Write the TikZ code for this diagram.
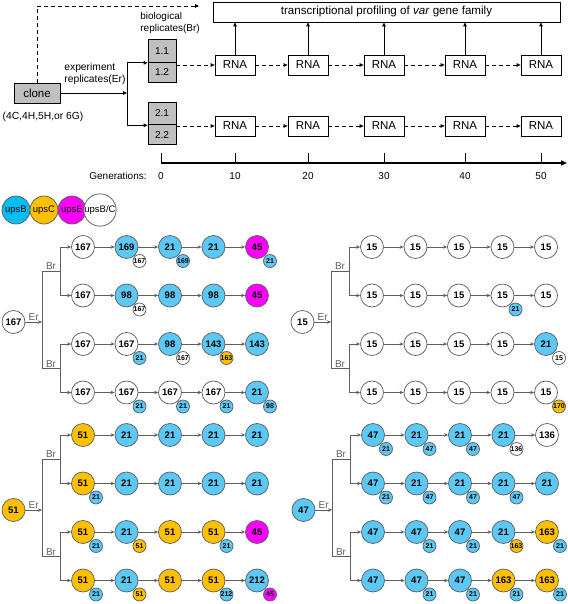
\documentclass[tikz,border=0pt]{standalone}
\usepackage{fontspec}
\setmainfont{Liberation Sans}
\usetikzlibrary{arrows.meta}

\definecolor{vB}{HTML}{5BC8F5}
\definecolor{lgB}{HTML}{00BEF2}
\definecolor{vC}{HTML}{FFC000}
\definecolor{vE}{HTML}{FF00FF}
\definecolor{vW}{HTML}{FFFFFF}
\definecolor{trgray}{HTML}{5F5F5F}
\definecolor{boxgray}{HTML}{C0C0C0}

\tikzset{every picture/.style={line width=0.75pt}}
\tikzset{
  gbox/.style={draw, fill=boxgray, inner sep=0pt, font=\fontsize{10}{12}\selectfont},
  rna/.style={draw, fill=white, minimum width=40, minimum height=20, inner sep=0pt, font=\fontsize{11.5}{13}\selectfont},
  arr/.style={-{Triangle[length=4pt,width=3.5pt]}},
  darr/.style={arr, dash pattern={on 4pt off 3pt}},
  vnode/.style={circle, draw=trgray, minimum size=23, inner sep=0pt, font=\bfseries\fontsize{9.5}{10}\selectfont},
  badge/.style={circle, draw=trgray, minimum size=13, inner sep=0pt, font=\bfseries\fontsize{7}{8}\selectfont},
  legnode/.style={circle, draw=trgray, minimum size=28, inner sep=0pt, font=\fontsize{9.5}{10}\selectfont},
  tline/.style={draw=trgray},
  tarr/.style={trgray, -{Stealth[length=4pt,width=3.5pt]}},
  lbl/.style={inner sep=1pt, font=\fontsize{10}{12}\selectfont},
}

\begin{document}
\begin{tikzpicture}[x=1pt, y=-1pt]
    \useasboundingbox (0,0) rectangle (567,604);

    % experiment layout
    \node[gbox, minimum width=46, minimum height=20, font=\fontsize{11.5}{13}\selectfont] (clone) at (37,93) {clone};
    \node[lbl, font=\fontsize{10.3}{12}\selectfont] (strains) at (43,117) {(4C,4H,5H,or 6G)};
    \node[lbl, anchor=west, align=left, font=\fontsize{10.3}{12.5}\selectfont] (erlbl) at (63,74) {experiment\\replicates(Er)};
    \node[lbl, anchor=west, align=left] (brlbl) at (139,23) {biological\\replicates(Br)};
    \node[gbox, minimum width=28, minimum height=23] (b11) at (162,51) {1.1};
    \node[gbox, minimum width=28, minimum height=19.5] (b12) at (162,72.25) {1.2};
    \node[gbox, minimum width=28, minimum height=23] (b21) at (162,113.4) {2.1};
    \node[gbox, minimum width=28, minimum height=19.5] (b22) at (162,134.6) {2.2};
    \node[rna, minimum width=347, font=\fontsize{11.6}{13}\selectfont] (prof) at (386.5,12) {transcriptional profiling of \textit{var} gene family};

    \coordinate (split) at (127,93);
    \draw[arr] (clone) -- (split);
    \draw (split |- b11.south west) -- (split |- b21.south west);
    \draw[arr] (split |- b11.south west) -- (b11.south west);
    \draw[arr] (split |- b21.south west) -- (b21.south west);

    \coordinate (dtop) at (37,6);
    \coordinate (dend) at (199,6);
    \draw[darr] (clone) -- (dtop) -- (dend);

    \foreach \g/\x in {1/235,2/308,3/384,4/465,5/541} {
        \node[rna] (r1-\g) at (\x,65) {RNA};
        \node[rna] (r2-\g) at (\x,126) {RNA};
        \draw[arr] (r1-\g) -- (r1-\g |- prof.south);
    }
    \draw[darr] (b11.south east |- r1-1) -- (r1-1);
    \draw[darr] (b21.south east |- r2-1) -- (r2-1);
    \foreach \g [remember=\g as \h (initially 1)] in {2,...,5} {
        \draw[darr] (r1-\h) -- (r1-\g);
        \draw[darr] (r2-\h) -- (r2-\g);
    }

    % generations axis
    \coordinate (ax0) at (161,163);
    \coordinate (ax1) at (567,163);
    \draw[line width=1.4pt, -{Triangle[length=6pt,width=5pt]}] (ax0) -- (ax1);
    \node[lbl] (genlbl) at (118,176) {Generations:};
    \foreach \t/\x in {0/161,10/235,20/308,30/384,40/465,50/541} {
        \draw (\x,153) -- (\x,163);
        \node[lbl] (gen\t) at (\x,176) {\t};
    }

    % legend
    \foreach \x/\c/\n [count=\i] in {16/lgB/upsB,44/vC/upsC,72/vE/upsE,100/vW/{upsB/C}} {
        \node[legnode, fill=\c] (leg\i) at (\x,210) {\n};
    }

    % the four clone trees
    \def\nob{-}
    \foreach \p/\ox/\oy/\rc/\rt/\rows in {%
        A/0/0/vW/167/{{vW/167/-/-,vB/169/vW/167,vB/21/vB/169,vB/21/-/-,vE/45/vB/21},%
            {vW/167/-/-,vB/98/vW/167,vB/98/-/-,vB/98/-/-,vE/45/-/-},%
            {vW/167/-/-,vW/167/vB/21,vB/98/vW/167,vB/143/vC/163,vB/143/-/-},%
            {vW/167/-/-,vW/167/vB/21,vW/167/vB/21,vW/167/vB/21,vB/21/vB/98}},%
        B/289/0/vW/15/{{vW/15/-/-,vW/15/-/-,vW/15/-/-,vW/15/-/-,vW/15/-/-},%
            {vW/15/-/-,vW/15/-/-,vW/15/-/-,vW/15/vB/21,vW/15/-/-},%
            {vW/15/-/-,vW/15/-/-,vW/15/-/-,vW/15/-/-,vB/21/vW/15},%
            {vW/15/-/-,vW/15/-/-,vW/15/-/-,vW/15/-/-,vW/15/vC/170}},%
        C/0/188/vC/51/{{vC/51/-/-,vB/21/-/-,vB/21/-/-,vB/21/-/-,vB/21/-/-},%
            {vC/51/vB/21,vB/21/-/-,vB/21/-/-,vB/21/-/-,vB/21/-/-},%
            {vC/51/vB/21,vB/21/vC/51,vC/51/-/-,vC/51/vB/21,vE/45/-/-},%
            {vC/51/vB/21,vB/21/vC/51,vC/51/-/-,vC/51/vB/212,vB/212/vE/45}},%
        D/290/188/vB/47/{{vB/47/vB/21,vB/21/vB/47,vB/21/vB/47,vB/21/vW/136,vW/136/-/-},%
            {vB/47/vB/21,vB/21/vB/47,vB/21/vB/47,vB/21/vB/47,vB/21/-/-},%
            {vB/47/-/-,vB/47/vB/21,vB/47/vB/21,vB/21/vC/163,vC/163/vB/21},%
            {vB/47/-/-,vB/47/vB/21,vB/47/vB/21,vC/163/vB/21,vC/163/vB/21}}%
    } {
        \foreach \row [count=\r] in \rows {
            \foreach \c/\t/\bc/\bt [count=\k, remember=\k as \j (initially 0)] in \row {
                \node[vnode, fill=\c] (\p-\r-\k) at ({\ox+83+43.5*(\k-1)},{\oy+247+48.5*(\r-1)}) {\t};
                \edef\bcx{\bc}
                \ifx\bcx\nob\else
                    \node[badge, fill=\bc] (\p-\r-\k-b) at ([shift={(13,14)}]\p-\r-\k.center) {\bt};
                \fi
                \ifnum\k>1 \draw[tarr] (\p-\r-\j) -- (\p-\r-\k); \fi
            }
        }
        \node[vnode, fill=\rc] (\p-root) at (\ox+13.5,\oy+322) {\rt};
        \coordinate (\p-t1) at (\ox+42,\oy+271);
        \coordinate (\p-t2) at (\ox+42,\oy+368.5);
        \coordinate (\p-j1) at (\ox+60,\oy+271);
        \coordinate (\p-j2) at (\ox+60,\oy+368.5);
        \draw[tarr] (\p-root) -- node[lbl, above] (\p-er) {Er} (\p-root -| \p-t1);
        \draw[tline] (\p-t1) -- (\p-t2);
        \draw[tarr] (\p-t1) -- node[lbl, above] (\p-br1) {Br} (\p-j1) |- (\p-1-1);
        \draw[tarr] (\p-j1) |- (\p-2-1);
        \draw[tarr] (\p-t2) -- node[lbl, above] (\p-br2) {Br} (\p-j2) |- (\p-3-1);
        \draw[tarr] (\p-j2) |- (\p-4-1);
    }
\end{tikzpicture}
\end{document}
